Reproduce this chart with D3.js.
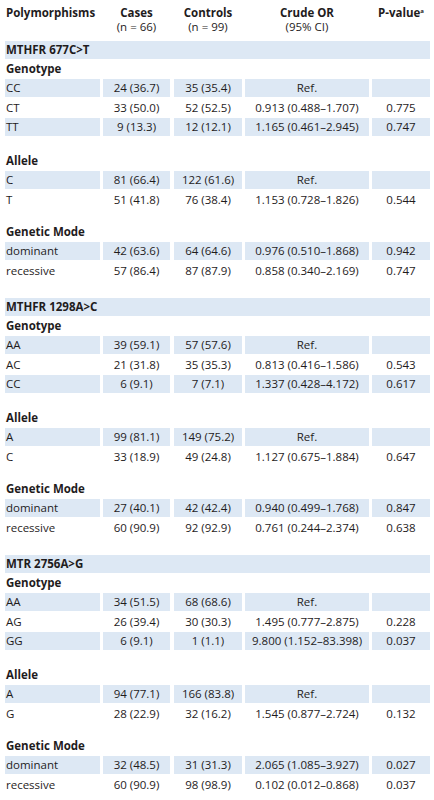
<!DOCTYPE html>
<html>
<head>
<meta charset="utf-8">
<script src="https://cdn.jsdelivr.net/npm/d3@7"></script>
<style>
  body { margin: 0; background: #fff; }
  text { font-family: "Open Sans", sans-serif; font-size: 11.5px; fill: #1f1c1d; }
  .b { font-weight: bold; }
</style>
</head>
<body>
<div id="chart"></div>
<script>
var columns = ['Polymorphisms', 'Cases', 'Controls', 'Crude OR', 'P-value'];
var subColumns = ['', '(n = 66)', '(n = 99)', '(95% CI)', ''];
var sections = ['MTHFR 677C>T', 'MTHFR 1298A>C', 'MTR 2756A>G'];
var groups = ['Genotype', 'Allele', 'Genetic Mode'];

// rows per section, per group: [label, cases, controls, OR, p]
var mthfr677 = [
  [['CC', '24 (36.7)', '35 (35.4)', 'Ref.', ''],
   ['CT', '33 (50.0)', '52 (52.5)', '0.913 (0.488–1.707)', '0.775'],
   ['TT', '9 (13.3)', '12 (12.1)', '1.165 (0.461–2.945)', '0.747']],
  [['C', '81 (66.4)', '122 (61.6)', 'Ref.', ''],
   ['T', '51 (41.8)', '76 (38.4)', '1.153 (0.728–1.826)', '0.544']],
  [['dominant', '42 (63.6)', '64 (64.6)', '0.976 (0.510–1.868)', '0.942'],
   ['recessive', '57 (86.4)', '87 (87.9)', '0.858 (0.340–2.169)', '0.747']]
];
var mthfr1298 = [
  [['AA', '39 (59.1)', '57 (57.6)', 'Ref.', ''],
   ['AC', '21 (31.8)', '35 (35.3)', '0.813 (0.416–1.586)', '0.543'],
   ['CC', '6 (9.1)', '7 (7.1)', '1.337 (0.428–4.172)', '0.617']],
  [['A', '99 (81.1)', '149 (75.2)', 'Ref.', ''],
   ['C', '33 (18.9)', '49 (24.8)', '1.127 (0.675–1.884)', '0.647']],
  [['dominant', '27 (40.1)', '42 (42.4)', '0.940 (0.499–1.768)', '0.847'],
   ['recessive', '60 (90.9)', '92 (92.9)', '0.761 (0.244–2.374)', '0.638']]
];
var mtr2756 = [
  [['AA', '34 (51.5)', '68 (68.6)', 'Ref.', ''],
   ['AG', '26 (39.4)', '30 (30.3)', '1.495 (0.777–2.875)', '0.228'],
   ['GG', '6 (9.1)', '1 (1.1)', '9.800 (1.152–83.398)', '0.037']],
  [['A', '94 (77.1)', '166 (83.8)', 'Ref.', ''],
   ['G', '28 (22.9)', '32 (16.2)', '1.545 (0.877–2.724)', '0.132']],
  [['dominant', '32 (48.5)', '31 (31.3)', '2.065 (1.085–3.927)', '0.027'],
   ['recessive', '60 (90.9)', '98 (98.9)', '0.102 (0.012–0.868)', '0.037']]
];
var sectionRows = [mthfr677, mthfr1298, mtr2756];

var W = 434, H = 800, shade = '#dde8f4';
var colL = [5, 103, 174, 245, 372], colR = [100, 170, 242, 369, 430];
var rowH = 18;

var svg = d3.select('#chart').append('svg').attr('width', W).attr('height', H);

// header
columns.forEach(function(c, i) {
  var x = i === 0 ? colL[0] + 1 : (colL[i] + colR[i]) / 2;
  var t = svg.append('text').attr('class', 'b').attr('x', x).attr('y', 17)
    .attr('text-anchor', i === 0 ? 'start' : 'middle').text(c);
  if (i === 4) t.append('tspan').attr('dy', -4).style('font-size', '6px').text('a');
  if (subColumns[i]) svg.append('text').attr('x', x).attr('y', 31)
    .attr('text-anchor', 'middle').text(subColumns[i]);
});

function row(yc, cells, shaded) {
  cells.forEach(function(c, i) {
    if (shaded) svg.append('rect').attr('x', colL[i]).attr('y', yc - rowH / 2)
      .attr('width', colR[i] - colL[i]).attr('height', rowH).attr('fill', shade);
    svg.append('text').attr('x', i === 0 ? colL[0] + 1 : (colL[i] + colR[i]) / 2)
      .attr('y', yc + 4).attr('text-anchor', i === 0 ? 'start' : 'middle').text(c);
  });
}

sectionRows.forEach(function(sec, si) {
  var s = 50 + si * 257;
  svg.append('rect').attr('x', colL[0]).attr('y', s - rowH / 2)
    .attr('width', colR[4] - colL[0]).attr('height', rowH).attr('fill', shade);
  svg.append('text').attr('class', 'b').attr('x', colL[0] + 1).attr('y', s + 4).text(sections[si]);
  var offs = [19, 111, 182];
  sec.forEach(function(g, gi) {
    var gy = s + offs[gi];
    svg.append('text').attr('class', 'b').attr('x', colL[0] + 1).attr('y', gy + 4).text(groups[gi]);
    g.forEach(function(r, ri) { row(gy + 19 + ri * 19.5, r, ri % 2 === 0); });
  });
});
</script>
</body>
</html>
